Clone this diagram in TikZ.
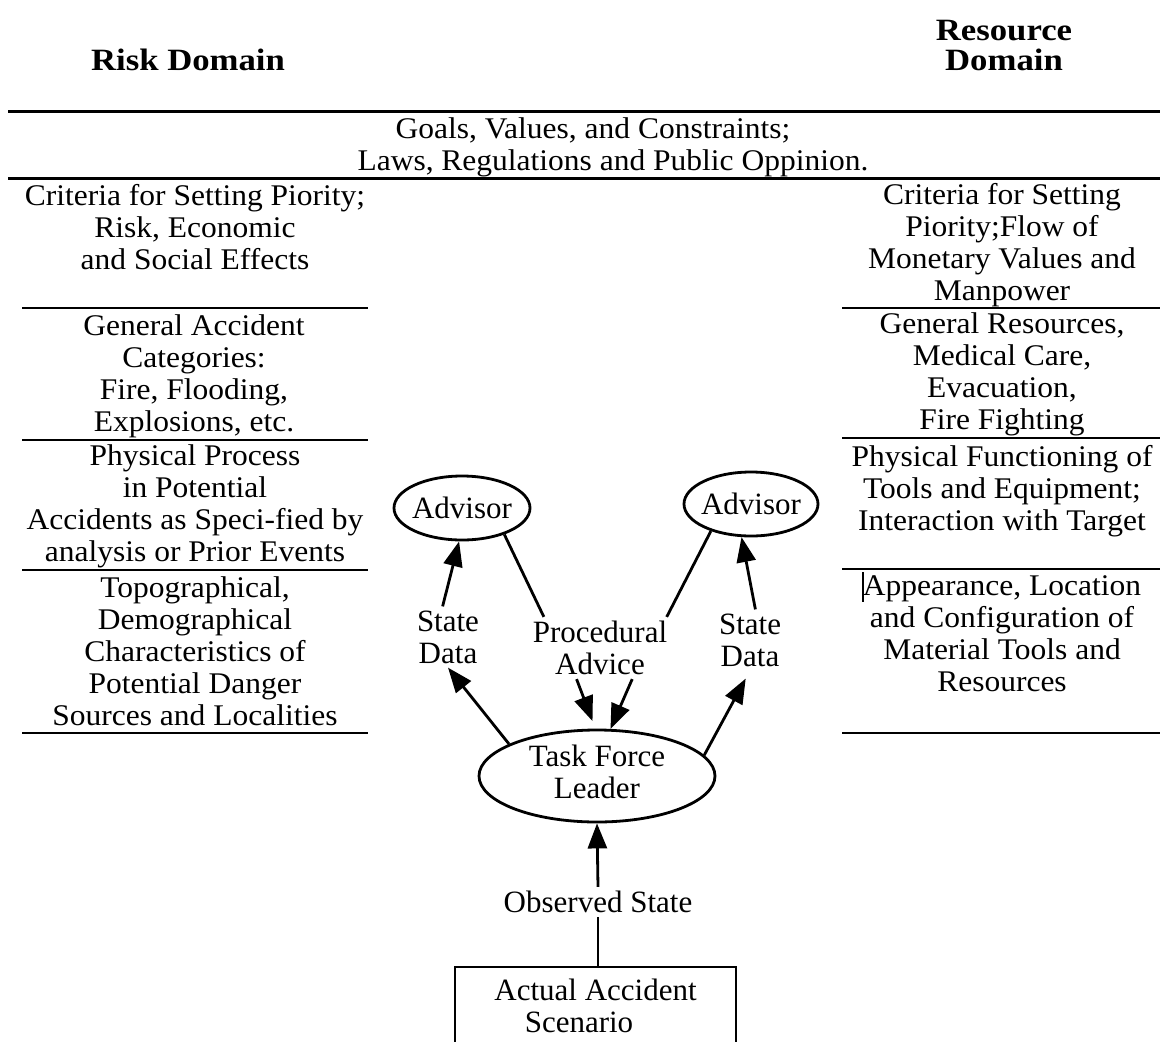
\documentclass[tikz,border=0pt]{standalone}
\usepackage{fontspec}
\setmainfont{Liberation Serif}
\newfontfamily\tabfont[FakeStretch=1.05]{Liberation Serif}
\newfontfamily\headfont[FakeStretch=1.12]{Liberation Serif}
\usetikzlibrary{shapes.geometric,arrows.meta}
\newcommand\zb[1]{\makebox[0pt]{#1}}
\begin{document}
\begin{tikzpicture}[x=1pt,y=-1pt,
  tabtxt/.style={align=center, font=\tabfont\fontsize{30}{32}\selectfont, inner sep=0pt},
  hdr/.style={align=center, font=\headfont\bfseries\fontsize{31}{30}\selectfont, inner sep=0pt},
  rulethin/.style={line width=2.5pt},
  rulethick/.style={line width=3pt},
  oval/.style={ellipse, draw, line width=2.8pt, inner sep=0pt, font=\fontsize{31}{32}\selectfont},
  lbl/.style={align=center, inner sep=4pt, font=\fontsize{31}{32}\selectfont},
  ln/.style={line width=2.8pt},
  arr/.style={ln, -{Triangle[length=25pt,width=19pt]}},
]
\fill[white] (0,0) rectangle (1160,1042);
\clip (0,0) rectangle (1160,1042);

% headings
\node[hdr] (riskh) at (188,60) {Risk Domain};
\node[hdr] (resh) at (1004,45) {Resource\\Domain};

% top band
\draw[rulethick] (8,111) -- (1160,111);
\draw[rulethick] (8,178) -- (1160,178);
\node[tabtxt] (goals) at (613,147) {Goals, Values, and Constraints;\hspace*{40pt}\\Laws, Regulations and Public Oppinion.};

% left column (risk domain)
\node[tabtxt] (l1) at (195,227) {Criteria for Setting Piority;\\Risk, Economic\\and Social Effects};
\draw[rulethin] (22,308) -- (368,308);
\node[tabtxt] (l2) at (194,376) {General Accident\\Categories:\\Fire, Flooding,\\Explosions, etc.};
\draw[rulethin] (22,440) -- (368,440);
\node[tabtxt] (l3) at (195,506) {Physical Process\\in Potential\\Accidents as Speci-fied by\\analysis or Prior Events};
\draw[rulethin] (22,570) -- (368,570);
\node[tabtxt] (l4) at (195,651) {Topographical,\\Demographical\\Characteristics of\\Potential Danger\\Sources and Localities};
\draw[rulethin] (22,733) -- (368,733);

% right column (resource domain)
\node[tabtxt] (r1) at (1002,245) {Criteria for Setting\\Piority;Flow of\\Monetary Values and\\Manpower};
\draw[rulethin] (842,308) -- (1160,308);
\node[tabtxt] (r2) at (1002,374) {General Resources,\\Medical Care,\\Evacuation,\\Fire Fighting};
\draw[rulethin] (842,438) -- (1160,438);
\node[tabtxt] (r3) at (1002,491) {Physical Functioning of\\Tools and Equipment;\\Interaction with Target};
\draw[rulethin] (842,569) -- (1160,569);
\draw[line width=2pt] (863,572) -- (863,602);
\node[tabtxt] (r4) at (1002,634) {Appearance, Location\\and Configuration of\\Material Tools and\\Resources};
\draw[rulethin] (842,733) -- (1160,733);

% central graph
\node[oval, minimum width=136pt, minimum height=64pt] (advl) at (462,508) {\zb{Advisor}};
\node[oval, minimum width=134pt, minimum height=64pt] (advr) at (751,504) {\zb{Advisor}};
\node[oval, minimum width=236pt, minimum height=92pt] (tfl) at (597,776)
  {\zb{\begin{tabular}{@{}c@{}}Task Force\\Leader\end{tabular}}};
\node[lbl] (sdl) at (448,637) {State\\Data};
\node[lbl] (pa) at (600,648) {Procedural\\Advice};
\node[lbl] (sdr) at (750,640) {State\\Data};
\node[lbl] (obs) at (598,902) {Observed State};
\node[draw, line width=2.8pt, outer sep=0pt, inner sep=0pt, minimum width=281pt, minimum height=78pt,
      anchor=north, align=center, font=\fontsize{31}{32}\selectfont] (box) at (595.5,967)
  {Actual Accident\\Scenario\hspace*{33pt}};

% connectors
\draw[arr] (tfl.160) -- (sdl.south);
\draw[arr] (sdl.100) -- (advl.265);
\draw[ln] (advl.-32) -- (pa.151);
\draw[ln] (advr.214) -- (pa.25);
\draw[arr, shorten >=8pt] (pa.233) -- (tfl.92);
\draw[arr] (pa.316) -- (tfl.74);
\draw[arr, shorten >=9pt] (tfl.11) -- (sdr.south);
\draw[arr] (sdr.80) -- (advr.254);
\draw[ln] (obs.south |- box.north) -- (obs.south);
\draw[arr] (obs.north) -- (tfl.south);
\end{tikzpicture}
\end{document}
